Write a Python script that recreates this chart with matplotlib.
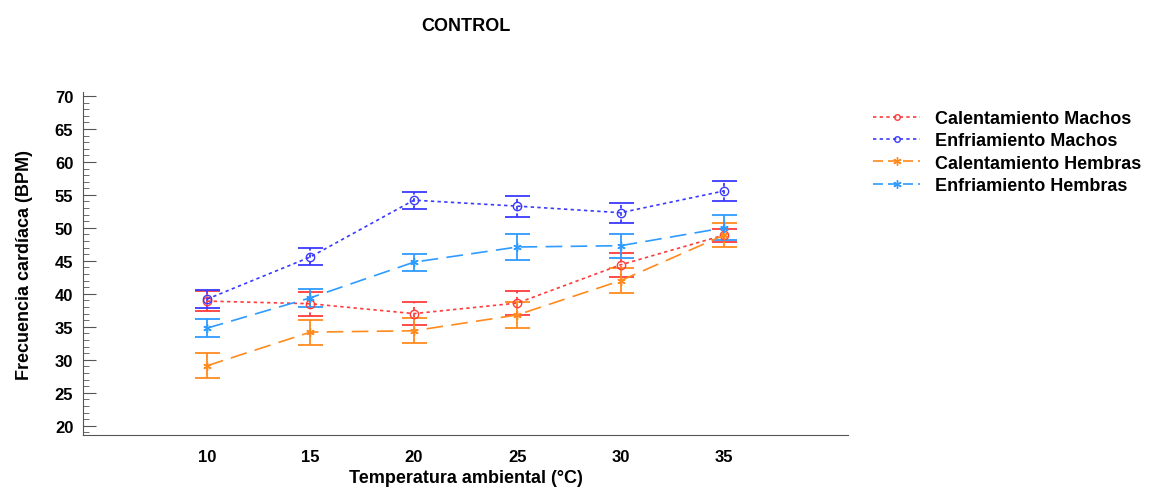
import numpy as np
import matplotlib
matplotlib.use("Agg")
import matplotlib.pyplot as plt
from matplotlib.lines import Line2D

plt.rcParams['font.family'] = ['Liberation Sans', 'DejaVu Sans']

#Temperature levels
temp = [10, 15, 20, 25, 30, 35]

#Mean heart rate and error
cal_machos = [38.9, 38.5, 37.0, 38.6, 44.4, 48.9]
cal_machos_err = [1.5, 1.8, 1.7, 1.8, 1.8, 1.0]
enf_machos = [39.2, 45.6, 54.2, 53.3, 52.3, 55.6]
enf_machos_err = [1.4, 1.3, 1.3, 1.6, 1.5, 1.5]
cal_hembras = [29.1, 34.2, 34.4, 36.8, 42.0, 48.9]
cal_hembras_err = [1.9, 1.9, 1.9, 2.0, 1.9, 1.8]
enf_hembras = [34.8, 39.4, 44.8, 47.1, 47.3, 50.0]
enf_hembras_err = [1.4, 1.4, 1.3, 2.0, 1.8, 1.9]

labels = ['Calentamiento Machos', 'Enfriamiento Machos',
          'Calentamiento Hembras', 'Enfriamiento Hembras']
colors = ['#ff3b3b', '#3a3aff', '#ff8a1e', '#2e9bff']

fig = plt.figure(figsize=(11.51, 4.89), dpi=100)
ax = fig.add_axes([0.0721, 0.1084, 0.6647, 0.7014])

star = (6, 2, 0)
dot_ls = (0, (2, 2))
dash_ls = (0, (10, 5))

def plot_series(y, err, color, ls, marker, dotted_err):
    cont = ax.errorbar(temp, y, yerr=err, color=color, linestyle=ls, linewidth=1.2,
                       marker=marker, markersize=6, markerfacecolor='none',
                       markeredgecolor=color, capsize=9, capthick=1.3,
                       elinewidth=1.3)
    if dotted_err:
        for b in cont[2]:
            b.set_linestyle(dot_ls)
    return cont

plot_series(cal_machos, cal_machos_err, colors[0], dot_ls, 'o', True)
plot_series(enf_machos, enf_machos_err, colors[1], dot_ls, 'o', True)
plot_series(cal_hembras, cal_hembras_err, colors[2], dash_ls, star, False)
plot_series(enf_hembras, enf_hembras_err, colors[3], dash_ls, star, False)

ax.set_xlim(4, 41)
ax.set_ylim(18.6, 70.6)
ax.set_xticks(temp)
ax.set_yticks(np.arange(20, 71, 5))
ax.set_yticks(np.arange(19, 71, 1), minor=True)
ax.tick_params(axis='x', length=0, pad=10, labelsize=12)
ax.tick_params(axis='y', which='major', direction='in', length=9, color='#555555',
               labelsize=12, pad=7)
ax.tick_params(axis='y', which='minor', direction='in', length=4, color='#555555')
for lab in ax.get_xticklabels() + ax.get_yticklabels():
    lab.set_fontweight('bold')

ax.spines['top'].set_visible(False)
ax.spines['right'].set_visible(False)
ax.spines['left'].set_color('#555555')
ax.spines['bottom'].set_color('#555555')

ax.set_xlabel('Temperatura ambiental (°C)', fontsize=13, fontweight='bold', labelpad=4)
ax.set_ylabel('Frecuencia cardíaca (BPM)', fontsize=13, fontweight='bold', labelpad=16)
fig.text(0.405, 0.945, 'CONTROL', fontsize=13, fontweight='bold', ha='center', va='center')

handles = [
    Line2D([], [], color=colors[0], linestyle=dot_ls, marker='o', markersize=4, markerfacecolor='none', lw=1.2),
    Line2D([], [], color=colors[1], linestyle=dot_ls, marker='o', markersize=4, markerfacecolor='none', lw=1.2),
    Line2D([], [], color=colors[2], linestyle=(0, (6, 3)), marker=star, markersize=6, lw=1.2),
    Line2D([], [], color=colors[3], linestyle=(0, (6, 3)), marker=star, markersize=6, lw=1.2),
]
ax.legend(handles, labels, loc='upper left', bbox_to_anchor=(1.012, 0.995), frameon=False,
          prop={'weight': 'bold', 'size': 13}, handlelength=2.6,
          labelspacing=0.3, handletextpad=0.8)

fig.savefig('out.png', dpi=100)
